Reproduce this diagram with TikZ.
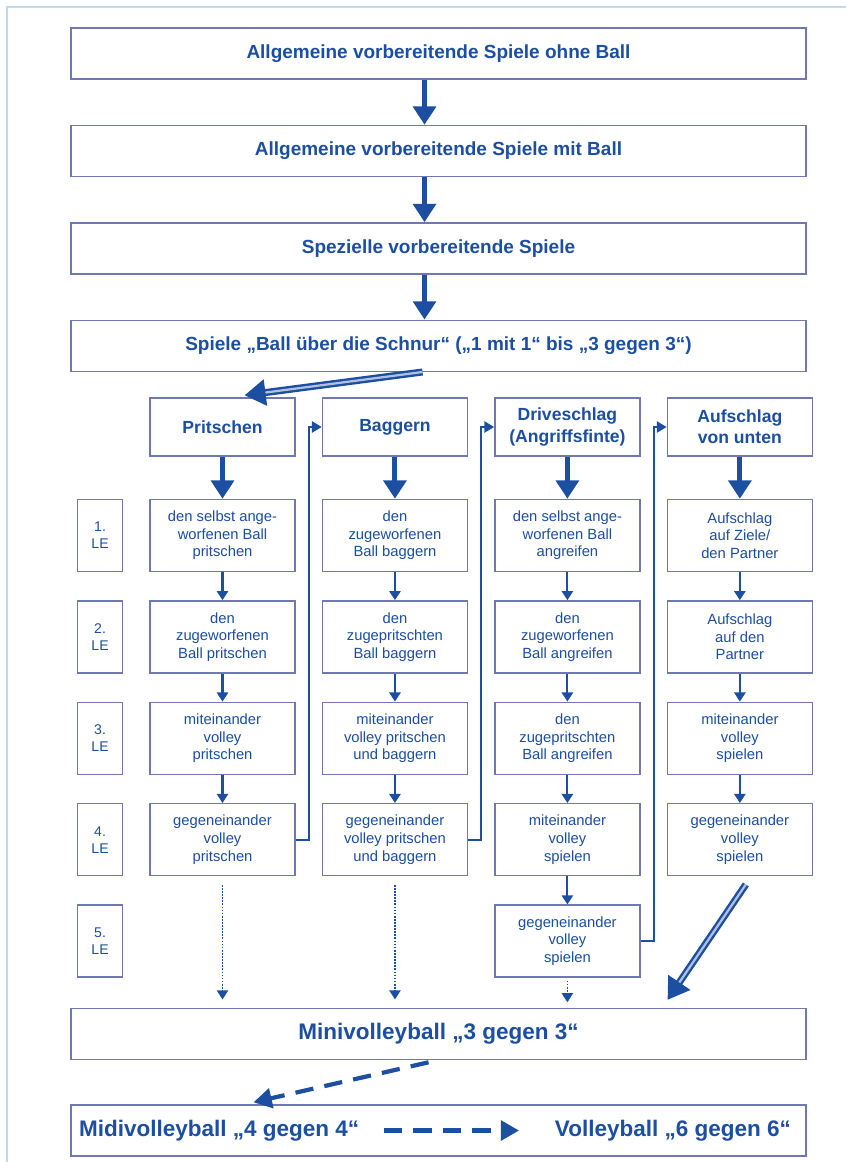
\documentclass[tikz,border=0pt]{standalone}
\usepackage{fontspec}
\setmainfont{Liberation Sans}
\usepackage{xcolor}
\usepackage{tikz}
\usetikzlibrary{arrows.meta,positioning,calc}
\definecolor{myblue}{RGB}{28,78,162}
\definecolor{myframe}{RGB}{112,120,178}
\definecolor{mylight}{RGB}{188,218,242}

\begin{document}
\begin{tikzpicture}[x=0.025cm, y=-0.025cm, node distance=0.7cm]
    \tikzstyle{wide}=[draw=myframe, line width=1pt, fill=white, minimum width=18.375cm, minimum height=1.275cm, text=myblue, font=\fontsize{13.5}{16}\selectfont\bfseries]
    \tikzstyle{hd}=[draw=myframe, line width=1pt, fill=white, minimum width=3.625cm, minimum height=1.45cm, align=center, text=myblue, font=\fontsize{12.5}{15}\selectfont\bfseries]
    \tikzstyle{b}=[draw=myframe, line width=1pt, fill=white, minimum width=3.625cm, minimum height=1.8cm, align=center, text=myblue, font=\fontsize{10.5}{12.5}\selectfont]
    \tikzstyle{lebox}=[draw=myframe, line width=1pt, fill=white, minimum width=1.125cm, minimum height=1.8cm, align=center, text=myblue, font=\fontsize{10}{12}\selectfont]
    \tikzstyle{bigarr}=[myblue, line width=3.5pt, -{Triangle[width=16pt,length=13pt]}]
    \tikzstyle{smallarr}=[myblue, line width=1.5pt, -{Triangle[width=8pt,length=6.5pt]}]
    \tikzstyle{fbarr}=[myblue, line width=1.3pt, -{Triangle[width=8pt,length=7pt]}]
    \tikzstyle{dotarr}=[myblue, line width=1.2pt, densely dotted, shorten <=6pt, shorten >=6pt, -{Triangle[width=8pt,length=6.5pt]}]
    \tikzstyle{dblarr}=[myblue, line width=5pt, -{Triangle[width=18pt,length=15pt]}]
    \tikzstyle{stripe}=[myblue!35!white, line width=1.6pt, shorten >=15pt]
    \tikzstyle{dasharr}=[myblue, line width=3pt, dash pattern=on 13pt off 8pt, -{Triangle[width=14pt,length=13pt]}]
    \useasboundingbox (0,0) rectangle (846,1162);
    \draw[mylight, line width=1.5pt] (7,1162) -- (7,7) -- (846,7);

    \node[wide] (allg1) at (438.5,53.5) {Allgemeine vorbereitende Spiele ohne Ball};
    \node[wide, below=1.125cm of allg1] (allg2) {Allgemeine vorbereitende Spiele mit Ball};
    \node[wide, below=1.125cm of allg2] (spez) {Spezielle vorbereitende Spiele};
    \node[wide, below=1.125cm of spez] (schnur) {Spiele „Ball über die Schnur“ („1 mit 1“ bis „3 gegen 3“)};

    \node[hd] (prit) at (222.5,427) {Pritschen};
    \node[hd, right=0.65cm of prit] (bag) {Baggern};
    \node[hd, right=0.65cm of bag] (drive) {Driveschlag\\(Angriffsfinte)};
    \node[hd, right=0.65cm of drive] (auf) {Aufschlag\\von unten};

    \node[b, below=1.05cm of prit] (prit1) {den selbst ange-\\worfenen Ball\\pritschen};
    \node[b, below=of prit1] (prit2) {den\\zugeworfenen\\Ball pritschen};
    \node[b, below=of prit2] (prit3) {miteinander\\volley\\pritschen};
    \node[b, below=of prit3] (prit4) {gegeneinander\\volley\\pritschen};

    \node[b, below=1.05cm of bag] (bag1) {den\\zugeworfenen\\Ball baggern};
    \node[b, below=of bag1] (bag2) {den\\zugepritschten\\Ball baggern};
    \node[b, below=of bag2] (bag3) {miteinander\\volley pritschen\\und baggern};
    \node[b, below=of bag3] (bag4) {gegeneinander\\volley pritschen\\und baggern};

    \node[b, below=1.05cm of drive] (drive1) {den selbst ange-\\worfenen Ball\\angreifen};
    \node[b, below=of drive1] (drive2) {den\\zugeworfenen\\Ball angreifen};
    \node[b, below=of drive2] (drive3) {den\\zugepritschten\\Ball angreifen};
    \node[b, below=of drive3] (drive4) {miteinander\\volley\\spielen};
    \node[b, below=of drive4] (drive5) {gegeneinander\\volley\\spielen};

    \node[b, below=1.05cm of auf] (auf1) {Aufschlag\\auf Ziele/\\den Partner};
    \node[b, below=of auf1] (auf2) {Aufschlag\\auf den\\Partner};
    \node[b, below=of auf2] (auf3) {miteinander\\volley\\spielen};
    \node[b, below=of auf3] (auf4) {gegeneinander\\volley\\spielen};

    \node[lebox, left=0.65cm of prit1] (le1) {1.\\LE};
    \node[lebox, below=of le1] (le2) {2.\\LE};
    \node[lebox, below=of le2] (le3) {3.\\LE};
    \node[lebox, below=of le3] (le4) {4.\\LE};
    \node[lebox, below=of le4] (le5) {5.\\LE};

    \node[wide, anchor=north, font=\fontsize{16}{19}\selectfont\bfseries] (mini) at ($(schnur.south |- drive5.south)+(0,30)$) {Minivolleyball „3 gegen 3“};
    \node[wide, below=1.1cm of mini] (volley) {};
    \node[anchor=west, text=myblue, font=\fontsize{16}{19}\selectfont\bfseries] (midi) at ($(volley.west)+(4,0)$) {Midivolleyball „4 gegen 4“};
    \node[anchor=east, text=myblue, font=\fontsize{16}{19}\selectfont\bfseries] (six) at ($(volley.east)+(-11,0)$) {Volleyball „6 gegen 6“};

    \foreach \a/\b in {allg1/allg2, allg2/spez, spez/schnur}
        \draw[bigarr] ($(\a.south)+(-14,0)$) -- ($(\b.north)+(-14,0)$);
    \foreach \c in {prit,bag,drive,auf}
        \draw[bigarr] (\c.south) -- (\c1.north);
    \foreach \a/\b in {prit1/prit2, prit2/prit3, prit3/prit4, bag1/bag2, bag2/bag3, bag3/bag4,
                       drive1/drive2, drive2/drive3, drive3/drive4, drive4/drive5,
                       auf1/auf2, auf2/auf3, auf3/auf4}
        \draw[smallarr] (\a.south) -- (\b.north);

    \draw[fbarr] (prit4.east) -- ++(13,0) |- (bag.west);
    \draw[fbarr] (bag4.east) -- ++(13,0) |- (drive.west);
    \draw[fbarr] (drive5.east) -- ++(13,0) |- (auf.west);

    \draw[dotarr] (prit4.south) -- (prit4.south |- mini.north);
    \draw[dotarr] (bag4.south) -- (bag4.south |- mini.north);
    \draw[dotarr, shorten <=2pt, shorten >=4pt] (drive5.south) -- (drive5.south |- mini.north);

    \coordinate (s1) at ($(schnur.south)+(-16,0)$);
    \coordinate (p1) at ($(prit.north)+(22,-2)$);
    \draw[dblarr] (s1) -- (p1);
    \draw[stripe] (s1) -- (p1);
    \coordinate (a1) at ($(auf4.south)+(6,8)$);
    \coordinate (m1) at ($(mini.north)+(229,-8)$);
    \draw[dblarr] (a1) -- (m1);
    \draw[stripe] (a1) -- (m1);

    \coordinate (t1) at ($(volley.north)+(-185,-2)$);
    \draw[dasharr] ($(mini.south)+(-10,2)$) -- (t1);
    \draw[dasharr, shorten <=14pt, shorten >=22pt] (midi.east) -- (six.west);
\end{tikzpicture}
\end{document}
